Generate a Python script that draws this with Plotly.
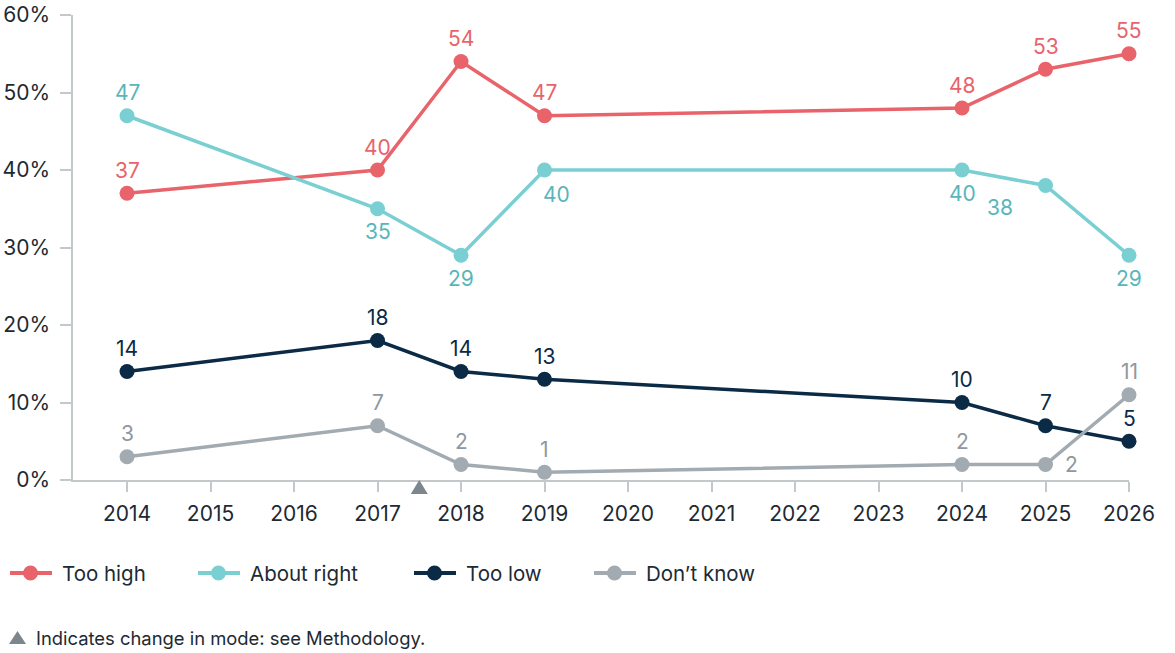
import plotly.graph_objects as go

# Survey years and the share of respondents giving each answer (%)
years = [2014, 2017, 2018, 2019, 2024, 2025, 2026]
too_high = [37, 40, 54, 47, 48, 53, 55]
about_right = [47, 35, 29, 40, 40, 38, 29]
too_low = [14, 18, 14, 13, 10, 7, 5]
dont_know = [3, 7, 2, 1, 2, 2, 11]

series_names = ["Too high", "About right", "Too low", "Don\u2019t know"]
y_ticks = [0, 10, 20, 30, 40, 50, 60]
x_ticks = list(range(2014, 2027))
mode_change_year = 2017.5

W, H = 1175, 653
ML, MR, MT, MB = 73, 46, 15, 173
PW, PH = W - ML - MR, H - MT - MB
X_RANGE = [2013.353, 2026.0]
FONT = "Inter"
TEXT = "#1d2a33"

line_colors = ["#e8636a", "#79cfd2", "#0b2a45", "#a2abb1"]
label_colors = ["#e8636a", "#58b6bb", "#0b2a45", "#8f989e"]

# label offsets (dx, dy in px; positive dy = up) per point
above = (0, 23)
below = (0, -23)
label_offsets = [
    [above] * 7,
    [above, below, below, (12, -24), below, (-46, -22), below],
    [above] * 7,
    [above, above, above, above, above, (26, 0), above],
]

fig = go.Figure()
all_series = [too_high, about_right, too_low, dont_know]
for name, vals, lc in zip(series_names, all_series, line_colors):
    fig.add_trace(go.Scatter(
        x=years, y=vals, name=name, mode="lines+markers",
        line=dict(color=lc, width=3.5),
        marker=dict(color=lc, size=15),
        cliponaxis=False, showlegend=False, hoverinfo="x+y",
    ))

annotations = []
for vals, offs, col in zip(all_series, label_offsets, label_colors):
    for x, v, (dx, dy) in zip(years, vals, offs):
        annotations.append(dict(
            x=x, y=v, xref="x", yref="y", text=str(v), showarrow=False,
            xshift=dx, yshift=dy, font=dict(family=FONT, size=21, color=col),
            xanchor="center", yanchor="middle",
        ))


def px_x(p):
    return (p - ML) / PW


def px_y(p):
    return (H - MB - p) / PH


def year_to_paper(x):
    return (x - X_RANGE[0]) / (X_RANGE[1] - X_RANGE[0])


shapes = []

# mode-change marker sitting just under the x axis
shapes.append(dict(type="path", xref="paper", yref="paper",
                   xsizemode="pixel", ysizemode="pixel",
                   xanchor=year_to_paper(mode_change_year), yanchor=0,
                   path="M -8.5 -14 L 8.5 -14 L 0 0 Z",
                   fillcolor="#7b878d", line=dict(width=0), layer="above"))

legend_x = [10, 198, 414, 594]
legend_y = 573
for x0, name, lc in zip(legend_x, series_names, line_colors):
    shapes.append(dict(type="line", xref="paper", yref="paper",
                       x0=px_x(x0), x1=px_x(x0 + 42), y0=px_y(legend_y), y1=px_y(legend_y),
                       line=dict(color=lc, width=4)))
    cx = x0 + 20.5
    r = 7.5
    shapes.append(dict(type="circle", xref="paper", yref="paper",
                       x0=px_x(cx - r), x1=px_x(cx + r), y0=px_y(legend_y + r), y1=px_y(legend_y - r),
                       fillcolor=lc, line=dict(width=0)))
    annotations.append(dict(x=px_x(x0 + 50), y=px_y(legend_y), xref="paper", yref="paper",
                            text=name, showarrow=False, xanchor="left", yanchor="middle",
                            font=dict(family=FONT, size=20.5, color=TEXT)))

# footnote
shapes.append(dict(type="path", xref="paper", yref="paper",
                   path="M {} {} L {} {} L {} {} Z".format(
                       px_x(9), px_y(644), px_x(26), px_y(644), px_x(17.5), px_y(631)),
                   fillcolor="#7b878d", line=dict(width=0)))
annotations.append(dict(x=px_x(34), y=px_y(638), xref="paper", yref="paper",
                        text="Indicates change in mode: see Methodology.", showarrow=False,
                        xanchor="left", yanchor="middle",
                        font=dict(family=FONT, size=18.4, color=TEXT)))

axis_col = "#c3c8cb"
fig.update_layout(
    width=W, height=H, autosize=False,
    margin=dict(l=ML, r=MR, t=MT, b=MB, pad=0),
    paper_bgcolor="white", plot_bgcolor="white",
    font=dict(family=FONT, size=20, color=TEXT),
    showlegend=False,
    xaxis=dict(range=X_RANGE, tickvals=x_ticks, ticktext=[str(t) for t in x_ticks],
               automargin=False,
               showgrid=False, zeroline=False, showline=True, linecolor=axis_col, linewidth=1.5,
               ticks="outside", ticklen=10, tickwidth=1.5, tickcolor=axis_col,
               tickfont=dict(family=FONT, size=21, color=TEXT), ticklabelstandoff=4),
    yaxis=dict(range=[0, 60], tickvals=y_ticks, ticktext=[f"{t}%" for t in y_ticks],
               automargin=False,
               showgrid=False, zeroline=False, showline=True, linecolor=axis_col, linewidth=1.5,
               ticks="outside", ticklen=11, tickwidth=1.5, tickcolor=axis_col,
               tickfont=dict(family=FONT, size=21, color=TEXT), ticklabelstandoff=6),
    annotations=annotations,
    shapes=shapes,
)

fig.write_html("out.html")
